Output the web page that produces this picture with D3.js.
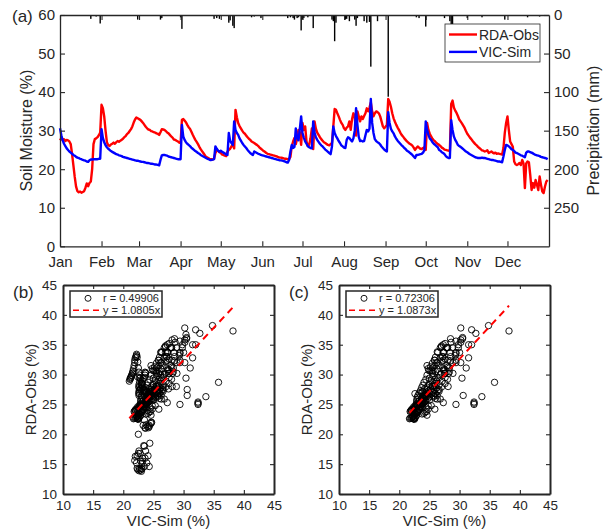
<!DOCTYPE html>
<html>
<head>
<meta charset="utf-8">
<script src="https://cdn.jsdelivr.net/npm/d3@7"></script>
<style>
  body { margin: 0; background: #fff; }
  svg { font-family: "Liberation Sans", Arial, sans-serif; }
</style>
</head>
<body>
<svg id="chart" width="610" height="532"></svg>
<script>
// daily soil moisture, 2019-01-01 .. 2019-12-31 (%)
const rdaObs = [
  // Jan
  27.5, 28.0, 27.6, 27.8, 27.3, 27.6, 27.5, 27.2, 26.5, 24.0, 21.0, 18.0, 15.5, 14.3, 14.0, 14.2,
  13.9, 14.1, 14.3, 15.2, 16.3, 15.6, 16.4, 16.8, 20.0, 26.5, 27.8, 28.0, 28.3, 28.8, 29.5,
  // Feb
  36.7, 35.8, 33.7, 30.0, 27.0, 26.2, 26.0, 26.4, 26.6, 26.9, 26.6, 27.0, 27.3, 27.1, 27.4, 27.6,
  27.9, 28.3, 28.6, 29.1, 29.4, 29.9, 30.4, 31.1, 32.1, 32.9, 33.4, 33.2,
  // Mar
  33.0, 32.8, 32.4, 32.0, 31.5, 31.0, 30.6, 30.3, 30.2, 29.9, 29.8, 29.6, 29.5, 29.3, 29.2, 28.9,
  29.6, 30.4, 30.3, 30.2, 29.9, 29.5, 29.3, 28.9, 28.5, 28.2, 27.7, 27.6, 27.4, 27.2, 26.9,
  // Apr
  26.8, 32.8, 33.0, 32.6, 32.2, 31.5, 30.9, 30.5, 29.8, 29.0, 28.3, 27.6, 27.1, 26.5, 25.8, 25.2,
  24.7, 24.2, 23.7, 23.2, 23.0, 22.8, 22.6, 22.6, 22.5, 22.7, 24.2, 24.8, 24.8, 24.4,
  // May
  24.2, 23.8, 23.7, 23.5, 23.4, 24.6, 25.0, 25.3, 25.9, 26.5, 25.4, 35.4, 33.5, 32.0, 31.2, 30.6,
  30.0, 29.5, 29.2, 28.7, 28.3, 27.9, 27.6, 27.2, 27.0, 26.8, 26.5, 26.3, 26.0, 25.6, 25.3,
  // Jun
  25.0, 24.7, 24.5, 24.2, 24.0, 23.9, 23.8, 23.7, 23.6, 23.5, 23.4, 23.3, 23.1, 23.0, 23.0, 22.9,
  22.8, 22.7, 22.7, 22.6, 22.6, 23.2, 25.9, 27.2, 28.1, 26.5, 28.0, 30.2, 29.4, 26.3,
  // Jul
  32.0, 30.2, 31.1, 27.2, 26.0, 26.3, 28.0, 30.6, 25.2, 32.4, 30.5, 29.5, 28.9, 28.3, 27.8, 27.4,
  27.0, 26.8, 26.5, 26.3, 26.2, 26.5, 26.8, 31.1, 35.6, 35.4, 34.5, 33.7, 32.8, 32.0, 31.5,
  // Aug
  30.6, 30.2, 30.8, 31.1, 32.4, 30.2, 33.0, 34.5, 33.7, 28.7, 35.0, 33.7, 32.4, 33.7, 33.0, 33.8,
  34.5, 35.8, 35.0, 36.0, 37.3, 35.0, 33.7, 34.5, 35.0, 34.8, 34.5, 33.7, 32.4, 31.1, 30.6,
  // Sep
  31.0, 31.5, 38.2, 37.5, 36.2, 34.5, 33.2, 32.3, 31.5, 30.8, 30.2, 29.5, 28.9, 28.5, 28.0, 27.6,
  27.2, 26.9, 26.6, 26.4, 26.1, 25.6, 25.0, 25.5, 25.9, 25.6, 25.3, 25.2, 25.5, 25.7,
  // Oct
  25.0, 32.0, 30.2, 29.2, 28.5, 27.9, 27.5, 27.2, 26.8, 26.5, 26.3, 26.0, 25.6, 25.4, 25.1, 25.0,
  24.9, 24.8, 24.7, 36.9, 37.8, 36.0, 35.2, 34.6, 33.8, 32.9, 32.4, 31.9, 31.3, 30.7, 29.9,
  // Nov
  29.2, 28.7, 28.2, 27.8, 27.3, 26.9, 26.5, 26.2, 25.8, 25.5, 25.2, 24.9, 24.8, 24.6, 24.7, 24.9,
  24.2, 24.4, 24.6, 24.3, 24.1, 24.3, 24.0, 24.1, 24.0, 23.9, 23.8, 25.5, 29.4, 32.0,
  // Dec
  33.7, 30.2, 27.2, 26.5, 25.8, 22.0, 21.3, 21.1, 21.3, 21.6, 21.1, 22.4, 21.5, 15.1, 21.5, 22.0,
  21.8, 18.5, 14.6, 16.4, 15.2, 17.2, 16.0, 14.6, 18.1, 16.0, 14.2, 13.8, 15.5, 16.8, 17.2
];

const vicSim = [
  // Jan
  30.6, 28.8, 27.5, 26.6, 26.0, 25.4, 25.0, 24.6, 24.3, 24.0, 23.7, 23.5, 23.2, 23.0, 22.9, 22.7,
  22.6, 22.4, 22.3, 22.2, 22.0, 21.9, 22.3, 22.5, 22.5, 22.6, 22.6, 22.6, 22.6, 22.7, 22.7,
  // Feb
  30.4, 28.1, 27.0, 26.2, 25.7, 25.3, 25.0, 24.7, 24.5, 24.3, 24.1, 23.9, 23.8, 23.6, 23.5, 23.4,
  23.2, 23.1, 23.0, 22.9, 22.8, 22.7, 22.6, 22.5, 22.4, 22.3, 22.2, 22.2,
  // Mar
  22.1, 22.0, 21.9, 21.9, 21.8, 21.7, 21.6, 21.6, 21.5, 21.4, 21.4, 21.3, 21.2, 21.2, 21.1, 21.0,
  22.4, 23.6, 23.7, 23.7, 23.6, 23.5, 23.3, 23.2, 23.1, 23.0, 22.9, 22.8, 22.7, 22.6, 22.6,
  // Apr
  22.6, 31.5, 28.5, 27.6, 27.0, 26.6, 26.3, 26.0, 25.6, 25.3, 25.0, 24.7, 24.5, 24.2, 24.0, 23.7,
  23.5, 23.3, 23.1, 22.9, 22.7, 22.6, 22.4, 22.4, 22.5, 22.6, 25.9, 25.3, 24.8, 24.5,
  // May
  24.8, 24.5, 24.3, 24.1, 23.8, 23.7, 29.4, 27.3, 26.8, 26.3, 32.4, 30.2, 29.4, 28.9, 28.0, 27.4,
  26.8, 26.3, 25.9, 25.5, 25.0, 24.6, 24.2, 23.9, 23.7, 24.6, 24.4, 24.2, 24.0, 23.9, 23.7,
  // Jun
  23.6, 23.5, 23.4, 23.3, 23.2, 23.1, 23.0, 22.9, 22.8, 22.7, 22.6, 22.5, 22.4, 22.3, 22.3, 22.2,
  22.1, 22.0, 21.8, 21.7, 22.4, 24.6, 26.3, 25.5, 25.8, 30.6, 28.1, 27.5, 30.4, 33.7,
  // Jul
  29.4, 28.2, 27.2, 26.6, 26.0, 25.7, 25.5, 25.4, 32.4, 29.4, 28.3, 27.6, 27.1, 26.6, 26.2, 25.9,
  25.5, 25.1, 24.8, 24.5, 24.2, 23.9, 25.9, 31.1, 29.4, 28.6, 28.0, 27.3, 26.8, 26.2, 25.9,
  // Aug
  25.6, 25.5, 27.6, 28.3, 28.1, 27.6, 27.2, 28.0, 30.0, 35.8, 31.5, 28.4, 27.3, 27.4, 27.2, 27.3,
  28.8, 30.2, 29.8, 30.5, 38.2, 32.0, 29.4, 27.8, 27.3, 27.0, 26.8, 26.4, 25.9, 25.5, 25.1,
  // Sep
  24.8, 24.6, 34.8, 32.0, 30.5, 29.8, 29.3, 28.5, 27.9, 27.4, 27.0, 26.6, 26.2, 25.9, 25.5, 25.2,
  24.8, 24.6, 24.3, 24.0, 23.7, 23.3, 22.9, 23.7, 23.7, 23.8, 23.9, 24.0, 24.3, 25.0,
  // Oct
  32.4, 30.2, 28.9, 28.0, 27.6, 27.0, 26.6, 26.3, 26.0, 25.7, 25.0, 24.8, 24.4, 24.2, 23.9, 23.4,
  23.1, 22.9, 22.9, 32.7, 30.2, 28.5, 27.6, 27.0, 26.3, 26.0, 25.8, 25.5, 25.2, 24.9, 24.6,
  // Nov
  24.4, 24.1, 23.9, 23.7, 23.5, 23.3, 23.1, 23.0, 22.9, 22.9, 22.9, 23.0, 22.9, 22.9, 22.8, 22.7,
  22.6, 22.5, 22.4, 22.4, 22.3, 22.2, 22.1, 22.0, 22.0, 21.9, 21.8, 23.3, 25.0, 26.3,
  // Dec
  26.2, 25.9, 25.6, 25.2, 25.0, 24.7, 24.3, 24.2, 24.0, 23.8, 23.6, 23.5, 23.3, 23.1, 24.3, 24.6,
  24.6, 24.4, 24.3, 24.1, 23.9, 23.7, 23.6, 23.5, 23.4, 23.2, 23.1, 23.0, 22.9, 22.8, 22.6
];

// rainy days (day of year, 0 = Jan 1) and amounts (mm)
const precipDay = [5, 23, 27, 30, 39, 58, 70, 75, 76, 90, 91, 105, 115, 117, 119, 126, 127, 129, 130,
  141, 143, 145, 150, 157, 170, 172, 174, 175, 177, 178, 180, 181, 182, 185, 189, 203, 204, 205, 206,
  213, 214, 216, 220, 221, 222, 227, 229, 231, 232, 237, 245, 266, 268, 273, 287, 291, 292, 293,
  304, 315, 332, 349, 358];
const precipMm = [1, 5, 2, 11, 1, 6, 1, 6, 4, 3, 18, 1, 5, 4, 5, 10, 7, 14, 17,
  1, 3, 2, 4, 1, 4, 3, 4, 6, 4, 3, 20, 6, 4, 3, 17, 6, 8, 34, 10,
  6, 5, 8, 6, 14, 4, 8, 10, 9, 67, 8, 106, 3, 4, 15, 4, 8, 22, 12,
  4, 3, 6, 3, 2];

const seriesNames = ['RDA-Obs', 'VIC-Sim'];
const seriesColors = ['#ff0000', '#0000ff'];

// fit statistics: (b) whole year, (c) Apr 1 - Nov 30 only
const rAll = 0.49906, slopeAll = 1.0805;
const rWarm = 0.72306, slopeWarm = 1.0873;
const warmPeriod = [new Date(2019, 3, 1), new Date(2019, 10, 30)];

const ink = '#262626';
const svg = d3.select('#chart');
const day0 = new Date(2019, 0, 1);
const dates = rdaObs.map((_, i) => d3.timeDay.offset(day0, i));

// ---------- panel (a): time series ----------
const aTop = 15, aBottom = 246.3, aLeft = 60, aRight = 549;
const x = d3.scaleTime().domain([day0, new Date(2020, 0, 1)]).range([aLeft, aRight]);
const ySm = d3.scaleLinear().domain([0, 60]).range([aBottom, aTop]);
const yPr = d3.scaleLinear().domain([0, 300]).range([aTop, aBottom]);

const gA = svg.append('g');

gA.append('g').selectAll('rect')
  .data(precipDay)
  .enter().append('rect')
    .attr('x', (d) => x(d3.timeDay.offset(day0, d)) - 0.7)
    .attr('y', aTop)
    .attr('width', 1.4)
    .attr('height', (d, i) => yPr(precipMm[i]) - aTop)
    .attr('fill', '#000');

const line = d3.line()
  .x((d, i) => x(dates[i]))
  .y((d) => ySm(d));

[rdaObs, vicSim].forEach((s, k) => {
  gA.append('path')
    .attr('d', line(s))
    .attr('fill', 'none')
    .attr('stroke', seriesColors[k])
    .attr('stroke-width', 2.4)
    .attr('stroke-linejoin', 'round');
});

const monthTicks = d3.timeMonths(day0, new Date(2019, 11, 2));

function styleAxis(g, size) {
  g.select('.domain').attr('stroke', ink).attr('stroke-width', 1.3);
  g.selectAll('.tick line').attr('stroke', ink).attr('stroke-width', 1.1);
  g.selectAll('.tick text').attr('fill', ink).style('font-size', size + 'px');
  g.attr('font-family', null);
}

gA.append('g')
  .attr('transform', `translate(0,${aBottom})`)
  .call(d3.axisBottom(x).tickValues(monthTicks).tickFormat(d3.timeFormat('%b'))
    .tickSize(-5).tickSizeOuter(0).tickPadding(10))
  .call((g) => styleAxis(g, 15));

gA.append('g')
  .attr('transform', `translate(0,${aTop})`)
  .call(d3.axisTop(x).tickValues(monthTicks).tickFormat('').tickSize(-5).tickSizeOuter(0))
  .call((g) => styleAxis(g, 15));

gA.append('g')
  .attr('transform', `translate(${aLeft},0)`)
  .call(d3.axisLeft(ySm).ticks(6).tickSize(-5).tickSizeOuter(0).tickPadding(5))
  .call((g) => styleAxis(g, 15));

gA.append('g')
  .attr('transform', `translate(${aRight},0)`)
  .call(d3.axisRight(yPr).tickValues(d3.range(0, 300, 50)).tickSize(-5).tickSizeOuter(0).tickPadding(5))
  .call((g) => styleAxis(g, 15));

gA.append('text')
  .attr('transform', `translate(32,${(aTop + aBottom) / 2}) rotate(-90)`)
  .attr('text-anchor', 'middle')
  .attr('fill', ink).style('font-size', '16px')
  .text('Soil Moisture (%)');

gA.append('text')
  .attr('transform', `translate(599,${(aTop + aBottom) / 2}) rotate(-90)`)
  .attr('text-anchor', 'middle')
  .attr('fill', ink).style('font-size', '16px')
  .text('Precipitation (mm)');

gA.append('text')
  .attr('x', 12).attr('y', 22)
  .attr('fill', ink).style('font-size', '17px')
  .text('(a)');

// legend (a)
const legA = gA.append('g').attr('transform', 'translate(445,24)');
legA.append('rect')
  .attr('width', 95).attr('height', 38)
  .attr('fill', '#fff').attr('stroke', ink).attr('stroke-width', 0.8);
seriesNames.forEach((name, k) => {
  const cy = 10.5 + k * 17.4;
  legA.append('line')
    .attr('x1', 4).attr('x2', 32).attr('y1', cy).attr('y2', cy)
    .attr('stroke', seriesColors[k]).attr('stroke-width', 2.4);
  legA.append('text')
    .attr('x', 34).attr('y', cy + 5)
    .attr('fill', ink).style('font-size', '14px')
    .text(name);
});

// ---------- panels (b) and (c): scatter ----------
function drawScatter(x0, tag, pts, r, slope) {
  const t = 285, b = 494, w = 211;
  const sx = d3.scaleLinear().domain([10, 45]).range([x0, x0 + w]);
  const sy = d3.scaleLinear().domain([10, 45]).range([b, t]);
  const g = svg.append('g');

  g.append('g').selectAll('circle')
    .data(pts)
    .enter().append('circle')
      .attr('cx', (d) => sx(d[0]))
      .attr('cy', (d) => sy(d[1]))
      .attr('r', 3.2)
      .attr('fill', 'none')
      .attr('stroke', '#000')
      .attr('stroke-width', 0.9);

  const xr = d3.extent(pts, (d) => d[0]);
  g.append('line')
    .attr('x1', sx(xr[0])).attr('y1', sy(slope * xr[0]))
    .attr('x2', sx(xr[1])).attr('y2', sy(slope * xr[1]))
    .attr('stroke', '#ff0000').attr('stroke-width', 2)
    .attr('stroke-dasharray', '7,5');

  const ticks = d3.range(10, 46, 5);
  g.append('g').attr('transform', `translate(0,${b})`)
    .call(d3.axisBottom(sx).tickValues(ticks).tickSize(-4).tickSizeOuter(0).tickPadding(6))
    .call((a) => styleAxis(a, 13.5));
  g.append('g').attr('transform', `translate(0,${t})`)
    .call(d3.axisTop(sx).tickValues(ticks).tickFormat('').tickSize(-4).tickSizeOuter(0))
    .call((a) => styleAxis(a, 13.5));
  g.append('g').attr('transform', `translate(${x0},0)`)
    .call(d3.axisLeft(sy).tickValues(ticks).tickSize(-4).tickSizeOuter(0).tickPadding(6))
    .call((a) => styleAxis(a, 13.5));
  g.append('g').attr('transform', `translate(${x0 + w},0)`)
    .call(d3.axisRight(sy).tickValues(ticks).tickFormat('').tickSize(-4).tickSizeOuter(0))
    .call((a) => styleAxis(a, 13.5));
  g.selectAll('.domain').attr('stroke-width', 2);

  g.append('text')
    .attr('x', x0 + w / 2).attr('y', 526)
    .attr('text-anchor', 'middle')
    .attr('fill', ink).style('font-size', '15px')
    .text('VIC-Sim (%)');
  g.append('text')
    .attr('transform', `translate(${x0 - 27},${(t + b) / 2}) rotate(-90)`)
    .attr('text-anchor', 'middle')
    .attr('fill', ink).style('font-size', '15px')
    .text('RDA-Obs (%)');
  g.append('text')
    .attr('x', x0 - 50).attr('y', 298)
    .attr('fill', ink).style('font-size', '17px')
    .text(tag);

  const leg = g.append('g').attr('transform', `translate(${x0 + 7},291)`);
  leg.append('rect')
    .attr('width', 92).attr('height', 26)
    .attr('fill', '#fff').attr('stroke', ink).attr('stroke-width', 1.5);
  leg.append('circle')
    .attr('cx', 18).attr('cy', 7.3).attr('r', 3)
    .attr('fill', 'none').attr('stroke', '#000').attr('stroke-width', 0.9);
  leg.append('line')
    .attr('x1', 3).attr('x2', 31).attr('y1', 19.3).attr('y2', 19.3)
    .attr('stroke', '#ff0000').attr('stroke-width', 1.6).attr('stroke-dasharray', '6,4');
  leg.append('text')
    .attr('x', 33).attr('y', 11.2)
    .attr('fill', ink).style('font-size', '11px')
    .text('r = ' + r.toFixed(5));
  leg.append('text')
    .attr('x', 33).attr('y', 23.2)
    .attr('fill', ink).style('font-size', '11px')
    .text('y = ' + slope.toFixed(4) + 'x');
}

const allPts = vicSim.map((v, i) => [v, rdaObs[i]]);
const warmPts = allPts.filter((p, i) => dates[i] >= warmPeriod[0] && dates[i] <= warmPeriod[1]);

drawScatter(63, '(b)', allPts, rAll, slopeAll);
drawScatter(339, '(c)', warmPts, rWarm, slopeWarm);
</script>
</body>
</html>
